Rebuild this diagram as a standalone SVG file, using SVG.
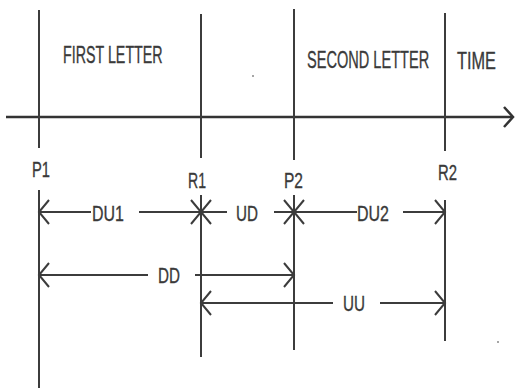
<svg xmlns="http://www.w3.org/2000/svg" width="515" height="389" viewBox="0 0 515 389">
  <style>
    .ln { stroke: #3c3c3c; stroke-width: 2; fill: none; }
    .ax { stroke: #333333; stroke-width: 2.5; fill: none; }
    .t { font-family: "Liberation Sans", Arial, sans-serif; fill: #3a3a3a; stroke: #3a3a3a; stroke-width: 0.35; }
    .title { font-size: 24px; }
    .lbl { font-size: 22px; }
  </style>
  <defs>
    <marker id="ah" viewBox="-14 -14 16 28" refX="0" refY="0" markerWidth="16" markerHeight="28" markerUnits="userSpaceOnUse" orient="auto-start-reverse">
      <path d="M -10 -12 L 0 0 L -10 12" fill="none" stroke="#3c3c3c" stroke-width="2"/>
    </marker>
  </defs>
  <rect width="515" height="389" fill="#ffffff"/>

  <g id="axis">
    <line class="ax" x1="6" y1="117" x2="513" y2="117"/>
    <path class="ax" d="M 504 107 L 513 117 L 504 127"/>
  </g>

  <g id="P1">
    <line class="ln" x1="39" y1="10" x2="39" y2="148"/>
    <line class="ln" x1="39" y1="190" x2="39" y2="388"/>
    <text class="t lbl" x="32" y="177" textLength="18" lengthAdjust="spacingAndGlyphs">P1</text>
  </g>
  <g id="R1">
    <line class="ln" x1="201" y1="14" x2="201" y2="158"/>
    <line class="ln" x1="201" y1="195" x2="201" y2="357"/>
    <text class="t lbl" x="188" y="188" textLength="18" lengthAdjust="spacingAndGlyphs">R1</text>
  </g>
  <g id="P2">
    <line class="ln" x1="294" y1="9" x2="294" y2="160"/>
    <line class="ln" x1="294" y1="195" x2="294" y2="350"/>
    <text class="t lbl" x="284" y="188" textLength="19" lengthAdjust="spacingAndGlyphs">P2</text>
  </g>
  <g id="R2">
    <line class="ln" x1="445" y1="13" x2="445" y2="151"/>
    <line class="ln" x1="445" y1="200" x2="445" y2="341"/>
    <text class="t lbl" x="438" y="180" textLength="19" lengthAdjust="spacingAndGlyphs">R2</text>
  </g>

  <g id="first-letter">
    <text class="t title" transform="translate(63,63) scale(0.595,1)" x="0" y="0">FIRST LETTER</text>
  </g>
  <g id="second-letter">
    <text class="t title" transform="translate(307,68) scale(0.607,1)" x="0" y="0">SECOND LETTER</text>
  </g>
  <g id="time">
    <text class="t title" transform="translate(457,69) scale(0.68,1)" x="0" y="0">TIME</text>
  </g>

  <g id="connectors">
    <!-- DU1 -->
    <line class="ln" x1="39" y1="212" x2="91" y2="212" marker-start="url(#ah)"/>
    <line class="ln" x1="139" y1="212" x2="201" y2="212" marker-end="url(#ah)"/>
    <!-- UD -->
    <line class="ln" x1="201" y1="212" x2="227" y2="212" marker-start="url(#ah)"/>
    <line class="ln" x1="274" y1="212" x2="294" y2="212" marker-end="url(#ah)"/>
    <!-- DU2 -->
    <line class="ln" x1="294" y1="212" x2="357" y2="212" marker-start="url(#ah)"/>
    <line class="ln" x1="403" y1="212" x2="445" y2="212" marker-end="url(#ah)"/>
    <!-- DD -->
    <line class="ln" x1="39" y1="275" x2="148" y2="275" marker-start="url(#ah)"/>
    <line class="ln" x1="195" y1="275" x2="294" y2="275" marker-end="url(#ah)"/>
    <!-- UU -->
    <line class="ln" x1="201" y1="303" x2="333" y2="303" marker-start="url(#ah)"/>
    <line class="ln" x1="380" y1="303" x2="445" y2="303" marker-end="url(#ah)"/>
  </g>

  <g id="labels">
    <text class="t lbl" x="92" y="221" textLength="32" lengthAdjust="spacingAndGlyphs">DU1</text>
    <text class="t lbl" x="236" y="221" textLength="22" lengthAdjust="spacingAndGlyphs">UD</text>
    <text class="t lbl" x="357" y="221" textLength="32" lengthAdjust="spacingAndGlyphs">DU2</text>
    <text class="t lbl" x="158" y="283" textLength="22" lengthAdjust="spacingAndGlyphs">DD</text>
    <text class="t lbl" x="343" y="311" textLength="22" lengthAdjust="spacingAndGlyphs">UU</text>
  </g>

  <circle cx="253" cy="76" r="1" fill="#888888"/>
  <circle cx="498" cy="342" r="1" fill="#888888"/>
</svg>
